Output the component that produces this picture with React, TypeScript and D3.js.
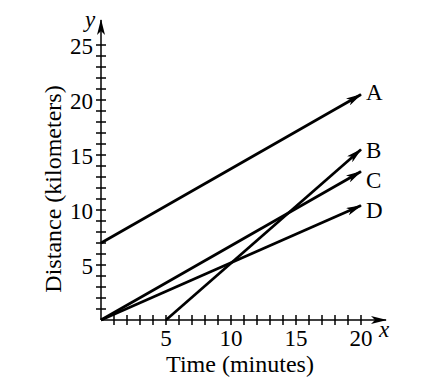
import React, { useEffect, useRef } from "react";
import * as d3 from "d3";

// line segments: [x, y] start and end
const lineNames = ["A", "B", "C", "D"];
const lineStarts = [[0, 7], [5, 0], [0, 0], [0, 0]];
const lineEnds = [[20, 20.5], [20, 15.5], [20, 13.5], [20, 10.4]];
const xTickLabels = [5, 10, 15, 20];
const yTickLabels = [5, 10, 15, 20, 25];

export default function App() {
    const ref = useRef<SVGSVGElement>(null);

    useEffect(() => {
        const width = 422;
        const height = 384;
        const svg = d3.select(ref.current);
        svg.selectAll("*").remove();
        svg.attr("width", width).attr("height", height);

        const font = "'Liberation Serif', 'Times New Roman', serif";

        const x = d3.scaleLinear().domain([0, 20]).range([101, 361]);
        const y = d3.scaleLinear().domain([0, 25]).range([320, 45]);

        // label nudges so B and C don't collide
        const labelDy = [5, 8, 16, 12];

        const defs = svg.append("defs");
        defs.append("marker")
            .attr("id", "head")
            .attr("viewBox", "0 0 16 8")
            .attr("refX", 15)
            .attr("refY", 4)
            .attr("markerWidth", 16)
            .attr("markerHeight", 8)
            .attr("markerUnits", "userSpaceOnUse")
            .attr("orient", "auto")
            .append("path")
            .attr("d", "M0,0 L16,4 L0,8 L4,4 Z")
            .attr("fill", "#000");

        // axes
        svg.append("line")
            .attr("x1", x(0)).attr("y1", y(0))
            .attr("x2", 386).attr("y2", y(0))
            .attr("stroke", "#000").attr("stroke-width", 1.5)
            .attr("marker-end", "url(#head)");
        svg.append("line")
            .attr("x1", x(0)).attr("y1", y(0))
            .attr("x2", x(0)).attr("y2", 20)
            .attr("stroke", "#000").attr("stroke-width", 1.5)
            .attr("marker-end", "url(#head)");

        svg.append("g").selectAll("line")
            .data(d3.range(1, 21))
            .enter().append("line")
            .attr("x1", d => x(d)).attr("x2", d => x(d))
            .attr("y1", y(0) - 5).attr("y2", y(0) + 5)
            .attr("stroke", "#000").attr("stroke-width", 1.5);

        svg.append("g").selectAll("line")
            .data(d3.range(1, 26))
            .enter().append("line")
            .attr("x1", x(0) - 5).attr("x2", x(0) + 5)
            .attr("y1", d => y(d)).attr("y2", d => y(d))
            .attr("stroke", "#000").attr("stroke-width", 1.5);

        svg.append("g").selectAll("text")
            .data(xTickLabels)
            .enter().append("text")
            .attr("x", d => x(d))
            .attr("y", y(0) + 26)
            .attr("text-anchor", "middle")
            .style("font-family", font).style("font-size", "23px")
            .text(d => d);

        svg.append("g").selectAll("text")
            .data(yTickLabels)
            .enter().append("text")
            .attr("x", x(0) - 8)
            .attr("y", d => y(d) + 9)
            .attr("text-anchor", "end")
            .style("font-family", font).style("font-size", "23px")
            .text(d => d);

        svg.append("text")
            .attr("x", 85).attr("y", 27)
            .style("font-family", font).style("font-size", "23px")
            .style("font-style", "italic")
            .text("y");
        svg.append("text")
            .attr("x", 379).attr("y", 337)
            .style("font-family", font).style("font-size", "23px")
            .style("font-style", "italic")
            .text("x");

        svg.append("text")
            .attr("x", 240).attr("y", 372)
            .attr("text-anchor", "middle")
            .style("font-family", font).style("font-size", "24px")
            .text("Time (minutes)");
        svg.append("text")
            .attr("transform", "translate(61,189) rotate(-90)")
            .attr("text-anchor", "middle")
            .style("font-family", font).style("font-size", "24px")
            .text("Distance (kilometers)");

        // lines with arrowheads
        svg.append("g").selectAll("line")
            .data(lineNames)
            .enter().append("line")
            .attr("x1", (d, i) => x(lineStarts[i][0]))
            .attr("y1", (d, i) => y(lineStarts[i][1]))
            .attr("x2", (d, i) => x(lineEnds[i][0]))
            .attr("y2", (d, i) => y(lineEnds[i][1]))
            .attr("stroke", "#000").attr("stroke-width", 2.7)
            .attr("marker-end", "url(#head)");

        svg.append("g").selectAll("text")
            .data(lineNames)
            .enter().append("text")
            .attr("x", (d, i) => x(lineEnds[i][0]) + 5)
            .attr("y", (d, i) => y(lineEnds[i][1]) + labelDy[i])
            .style("font-family", font).style("font-size", "23px")
            .text(d => d);
    }, []);

    return <svg ref={ref} style={{ position: "absolute", left: 0, top: 0 }}></svg>;
}
